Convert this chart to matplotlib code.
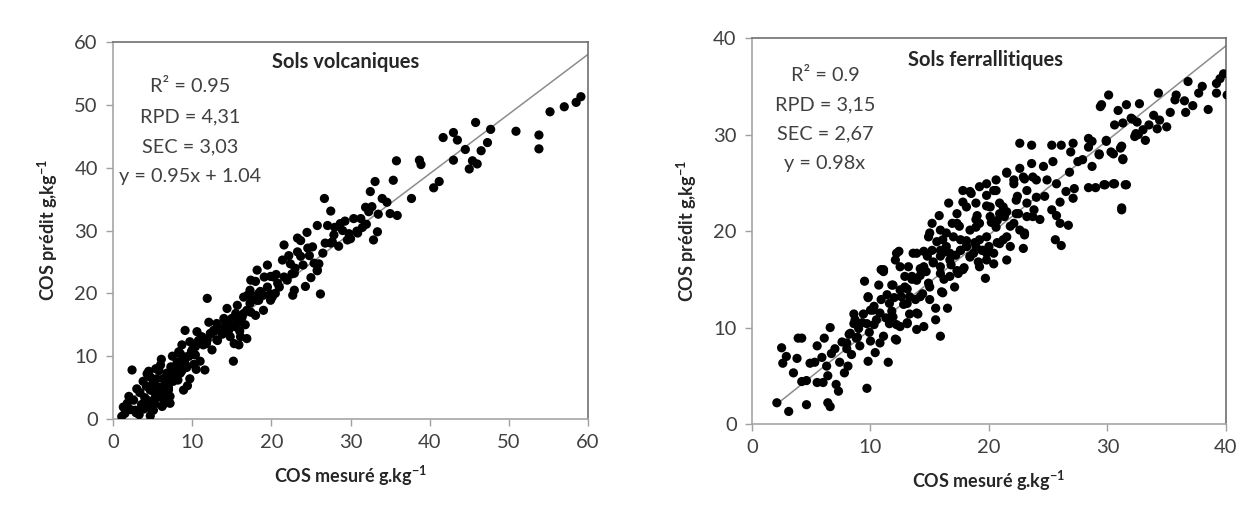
import matplotlib
matplotlib.use("Agg")
import matplotlib.pyplot as plt
import numpy as np

# Sols volcaniques : COS mesuré (x) / COS prédit (y), g/kg
vol_x = [1.1, 1.3, 2.6, 2.4, 3.2, 3.6, 4.7, 3.8, 4.5, 4.7,
         5.1, 5.5, 6.0, 6.2, 6.4, 6.8, 7.2, 7.6, 8.1, 8.3,
         8.5, 8.9, 8.7, 9.1, 9.7, 9.7, 10.2, 10.6, 11.0, 11.4,
         11.6, 11.9, 12.1, 12.5, 13.1, 13.5, 14.2, 14.4, 14.8, 15.2,
         15.4, 15.7, 15.9, 16.3, 16.5, 16.7, 16.9, 17.3, 18.2, 19.0,
         20.1, 3.9, 4.3, 4.7, 5.1, 5.8, 6.0, 6.4, 6.8, 7.3,
         7.7, 8.1, 8.5, 8.7, 2.9, 3.4, 4.0, 4.2, 5.0, 5.3,
         5.6, 5.9, 6.3, 6.6, 7.0, 7.4, 7.9, 8.2, 8.8, 9.3,
         9.6, 10.0, 10.4, 10.8, 11.2, 11.8, 12.3, 12.8, 13.2, 13.8,
         14.0, 14.6, 15.0, 15.3, 15.5, 16.0, 16.1, 16.5, 17.0, 17.4,
         17.8, 18.0, 18.6, 19.5, 20.5, 20.8, 1.8, 2.2, 3.0, 4.4,
         5.4, 6.1, 7.5, 9.0, 10.5, 17.4, 18.2, 19.5, 19.9, 21.4,
         21.6, 22.0, 22.7, 22.9, 23.3, 23.7, 24.3, 24.6, 25.4, 25.8,
         26.2, 26.5, 27.5, 27.9, 29.6, 30.9, 59.1, 58.5, 57.0, 55.2,
         53.8, 53.8, 50.9, 47.7, 45.8, 47.3, 46.5, 46.0, 45.0, 45.4,
         44.5, 43.0, 43.5, 43.0, 41.7, 41.2, 40.5, 38.9, 38.7, 37.7,
         35.9, 35.8, 35.4, 35.0, 34.6, 34.0, 33.5, 33.1, 32.5, 32.7,
         31.9, 33.4, 32.9, 31.3, 30.4, 30.8, 29.8, 30.0, 28.7, 29.0,
         27.5, 26.7, 27.1, 27.7, 25.8, 25.8, 26.0, 25.2, 24.5, 23.7,
         23.3, 22.9, 22.6, 20.3, 19.1, 18.0, 19.9, 18.4, 21.6, 22.4,
         20.6, 21.0, 22.2, 23.0, 24.0, 24.8, 25.0, 26.8, 28.0, 28.5,
         29.3, 31.5, 32.0, 32.3, 1.5, 2.0, 3.3, 4.9, 6.7, 9.4,
         4.3, 5.3, 5.7, 6.6, 7.0, 7.4, 7.9, 8.3, 9.1, 9.3,
         9.9, 10.4, 10.8, 11.2, 11.9, 12.3, 12.7, 13.1, 14.0, 14.6,
         15.0, 15.5, 16.1, 16.9, 17.3, 18.4, 19.0, 19.9, 5.1, 3.9,
         2.8, 6.2, 7.2]
vol_y = [0.4, 1.9, 3.0, 7.8, 1.2, 2.3, 0.5, 6.0, 7.6, 4.6,
         3.0, 6.4, 8.6, 2.0, 5.1, 7.3, 3.6, 6.0, 9.1, 10.7,
         7.3, 4.6, 11.8, 14.1, 12.3, 6.4, 8.7, 13.9, 9.2, 11.8,
         7.8, 19.2, 15.4, 11.0, 12.6, 14.4, 15.4, 17.6, 13.1, 9.2,
         14.7, 18.1, 11.8, 16.2, 19.4, 15.0, 12.8, 20.5, 18.9, 17.3,
         19.4, 1.6, 7.2, 6.7, 4.5, 7.7, 3.5, 2.4, 5.6, 8.3,
         6.7, 8.8, 10.4, 7.7, 1.0, 4.2, 3.4, 5.2, 5.6, 2.4,
         4.0, 5.0, 6.4, 4.3, 5.0, 7.0, 7.8, 6.2, 9.2, 8.2,
         10.0, 11.0, 10.2, 12.5, 13.0, 12.0, 13.6, 14.0, 12.5, 13.5,
         16.0, 14.1, 15.2, 12.0, 15.7, 14.0, 13.1, 16.8, 19.7, 17.0,
         19.5, 16.5, 20.3, 21.0, 20.0, 21.6, 2.5, 1.5, 4.8, 2.0,
         8.0, 9.5, 10.0, 9.8, 7.9, 22.1, 23.7, 24.5, 22.7, 25.3,
         27.7, 22.1, 19.7, 23.2, 28.8, 25.9, 21.1, 27.2, 24.8, 23.7,
         19.9, 26.4, 28.0, 29.3, 28.5, 29.6, 51.3, 50.4, 49.7, 48.9,
         45.2, 43.0, 45.8, 46.1, 47.2, 44.0, 42.7, 40.6, 39.8, 41.1,
         42.9, 41.2, 44.4, 45.6, 44.8, 37.8, 36.8, 40.5, 41.2, 35.1,
         32.4, 41.1, 38.0, 32.7, 34.5, 35.1, 32.6, 37.8, 36.2, 33.8,
         33.7, 29.8, 28.5, 31.9, 31.9, 29.9, 29.5, 28.7, 31.1, 30.0,
         33.1, 35.1, 30.8, 28.2, 30.8, 23.6, 24.7, 27.4, 29.7, 28.4,
         26.6, 20.5, 23.1, 22.6, 22.6, 21.9, 19.9, 18.9, 22.6, 24.7,
         23.0, 21.0, 26.0, 24.0, 24.5, 26.0, 22.5, 28.0, 30.5, 27.5,
         31.5, 30.5, 31.0, 33.0, 0.9, 3.6, 0.7, 1.4, 3.2, 5.3,
         3.0, 4.1, 5.1, 6.2, 4.6, 7.8, 6.7, 8.0, 8.8, 9.9,
         10.7, 11.5, 12.1, 13.1, 12.6, 13.6, 14.1, 15.2, 14.1, 14.7,
         16.0, 16.8, 15.4, 17.3, 18.4, 20.0, 19.7, 18.9, 1.4, 2.5,
         1.4, 3.4, 2.5]

# Sols ferrallitiques
fer_x = [2.1, 3.1, 4.6, 6.4, 6.6, 2.5, 2.6, 2.9, 3.5, 3.8,
         3.9, 4.2, 4.2, 4.6, 4.9, 5.3, 5.5, 5.5, 6.0, 6.1,
         6.3, 6.4, 6.6, 6.7, 7.1, 7.3, 7.4, 7.8, 8.1, 8.2,
         8.4, 8.7, 8.8, 9.1, 9.3, 9.5, 9.7, 9.8, 9.8, 9.9,
         10.2, 10.4, 10.5, 10.7, 11.1, 11.1, 11.4, 11.5, 11.8, 12.1,
         12.2, 11.9, 12.2, 12.5, 12.8, 13.1, 13.1, 13.2, 13.6, 13.8,
         13.9, 13.9, 14.2, 14.5, 14.9, 15.2, 14.9, 15.5, 15.9, 15.9,
         16.0, 16.1, 16.7, 17.1, 17.4, 17.6, 18.4, 19.1, 19.7, 20.4,
         19.2, 18.5, 19.8, 20.6, 21.5, 22.1, 22.9, 23.7, 16.6, 17.3,
         18.1, 18.9, 20.1, 20.9, 21.5, 22.3, 23.2, 23.7, 23.0, 22.9,
         15.0, 15.6, 16.4, 17.0, 17.6, 18.4, 19.2, 19.8, 20.6, 21.5,
         22.1, 12.4, 12.1, 11.1, 13.9, 14.5, 15.9, 16.4, 17.3, 18.4,
         18.9, 13.9, 15.0, 15.9, 13.1, 13.3, 14.0, 12.6, 16.5, 10.8,
         10.3, 9.7, 8.6, 8.3, 10.3, 11.6, 11.9, 9.8, 9.4, 12.2,
         29.5, 31.6, 30.6, 31.3, 32.0, 32.4, 22.6, 23.6, 25.3, 26.1,
         27.1, 26.9, 28.4, 28.7, 28.4, 29.9, 29.3, 30.3, 31.1, 31.3,
         27.5, 27.9, 28.7, 26.8, 25.4, 24.6, 23.6, 22.6, 21.5, 22.1,
         23.0, 24.0, 24.9, 25.7, 26.5, 27.2, 27.1, 26.0, 25.3, 24.7,
         28.4, 29.0, 29.8, 30.6, 31.6, 31.2, 26.0, 26.7, 25.7, 25.6,
         26.1, 23.0, 24.3, 23.8, 23.2, 22.4, 21.2, 20.4, 18.4, 19.8,
         18.9, 20.7, 21.8, 21.2, 19.2, 18.1, 19.8, 17.8, 16.9, 15.8,
         40.1, 39.8, 39.5, 39.2, 39.2, 38.5, 37.7, 36.8, 36.6, 35.8,
         35.7, 35.3, 35.0, 34.4, 34.2, 33.9, 34.3, 33.2, 32.6, 32.3,
         32.5, 32.1, 32.7, 30.9, 33.5, 31.2, 31.3, 31.2, 31.5, 30.5,
         30.1, 29.4, 29.9, 29.3, 30.5, 29.7, 36.5, 37.2, 38.0, 33.0,
         14.4, 15.3, 16.2, 16.8, 17.2, 17.9, 18.1, 18.8, 19.4, 20.0,
         20.7, 21.3, 22.5, 20.2, 19.0, 17.5, 16.2, 15.2, 14.7, 13.5,
         12.9, 12.0, 11.3, 10.9, 10.0, 9.0, 8.0, 7.6, 7.0, 5.9,
         10.9, 11.8, 12.9, 13.5, 14.2, 14.8, 15.3, 15.9, 16.7, 17.6,
         18.1, 18.7, 19.5, 20.4, 20.9, 21.8, 22.6, 22.3, 23.2, 24.0,
         8.6, 8.9, 8.0, 12.5, 13.1, 14.5, 15.5, 13.3, 12.5, 10.8,
         11.6, 10.0, 14.2, 15.0, 16.1, 16.7, 17.8, 19.2, 19.8, 21.5,
         18.9, 20.1, 20.9, 17.3, 15.9, 17.8, 19.8, 20.6]
fer_y = [2.2, 1.3, 2.0, 2.2, 1.8, 7.9, 6.3, 7.0, 5.3, 6.8,
         8.9, 8.9, 4.4, 4.5, 6.3, 6.4, 8.1, 4.3, 4.3, 8.9,
         6.0, 5.0, 10.0, 7.3, 4.1, 3.4, 6.4, 5.3, 6.0, 9.3,
         7.2, 10.8, 8.9, 8.1, 10.5, 14.8, 3.7, 6.5, 13.1, 9.5,
         11.8, 7.4, 10.8, 14.4, 15.8, 9.1, 13.4, 6.4, 11.7, 8.8,
         10.3, 14.4, 17.7, 16.3, 12.4, 10.5, 14.0, 16.3, 17.7, 12.9,
         9.8, 11.5, 15.4, 17.9, 19.4, 20.8, 14.6, 10.8, 9.1, 16.3,
         13.7, 19.1, 17.0, 14.2, 15.6, 18.0, 17.3, 16.8, 15.1, 16.6,
         24.6, 23.9, 23.7, 24.2, 26.0, 24.9, 25.6, 25.6, 22.9, 21.8,
         22.5, 22.9, 22.5, 22.9, 22.0, 23.2, 22.9, 21.5, 19.8, 18.2,
         19.8, 18.9, 19.8, 19.4, 19.1, 20.1, 20.8, 19.4, 20.4, 19.4,
         20.8, 17.9, 17.0, 16.0, 17.7, 16.3, 17.4, 18.4, 15.9, 17.4,
         18.4, 14.9, 14.2, 15.6, 12.5, 11.4, 11.4, 13.2, 12.0, 8.4,
         10.3, 10.4, 11.4, 9.4, 12.2, 12.5, 11.1, 13.2, 11.4, 8.7,
         33.1, 33.1, 31.0, 31.2, 31.7, 30.1, 29.1, 28.9, 28.9, 28.9,
         29.1, 28.2, 29.6, 29.3, 28.7, 29.3, 28.0, 28.2, 28.6, 27.4,
         27.2, 27.4, 26.7, 26.1, 27.2, 26.7, 27.0, 26.5, 26.1, 25.3,
         25.4, 25.3, 25.3, 24.9, 24.1, 24.4, 23.4, 23.0, 22.2, 23.6,
         24.5, 24.5, 24.8, 24.9, 24.8, 22.2, 20.8, 20.6, 21.6, 19.1,
         18.5, 19.6, 21.2, 22.2, 21.5, 23.6, 22.5, 24.2, 24.1, 22.6,
         21.2, 21.1, 20.5, 19.1, 19.1, 18.4, 17.7, 23.0, 20.8, 21.6,
         34.1, 36.3, 35.8, 35.3, 34.3, 32.6, 34.3, 35.5, 32.3, 34.1,
         33.6, 32.3, 30.8, 31.5, 30.6, 32.0, 34.3, 29.4, 30.0, 29.8,
         31.3, 31.6, 33.2, 32.5, 31.0, 28.8, 27.5, 22.4, 24.8, 28.0,
         34.1, 32.9, 29.4, 27.9, 24.9, 24.8, 33.5, 33.0, 35.0, 30.5,
         13.5, 16.8, 15.0, 16.5, 17.5, 16.2, 19.0, 18.8, 18.0, 18.4,
         18.8, 21.5, 21.8, 20.9, 21.6, 20.5, 17.8, 18.0, 15.8, 15.0,
         15.3, 13.1, 11.0, 12.9, 8.6, 9.9, 7.8, 8.5, 7.8, 6.9,
         16.0, 14.4, 14.2, 15.3, 16.1, 17.4, 16.7, 18.0, 17.7, 18.0,
         18.4, 17.7, 18.0, 17.7, 18.7, 18.4, 20.1, 21.8, 24.2, 23.5,
         10.4, 9.0, 8.4, 10.1, 10.4, 10.1, 12.0, 13.2, 13.9, 11.5,
         10.4, 11.8, 13.2, 12.9, 13.6, 15.3, 16.0, 16.3, 17.0, 17.0,
         20.4, 21.5, 21.8, 20.8, 20.1, 24.2, 24.9, 25.3]

panels = [
    dict(x=vol_x, y=vol_y, title="Sols volcaniques", lim=60,
         slope=0.95, icpt=1.04, fit_range=(1, 60),
         stats=["R² = 0.95", "RPD = 4,31", "SEC = 3,03", "y = 0.95x + 1.04"],
         rect=[0.0908, 0.2019, 0.3815, 0.718],
         title_pos=(0.49, 0.947), stats_pos=(0.162, 0.881, 0.0796)),
    dict(x=fer_x, y=fer_y, title="Sols ferrallitiques", lim=40,
         slope=0.98, icpt=0.0, fit_range=(2, 40),
         stats=["R² = 0.9", "RPD = 3,15", "SEC = 2,67", "y = 0.98x"],
         rect=[0.604, 0.1924, 0.3807, 0.735],
         title_pos=(0.493, 0.943), stats_pos=(0.154, 0.904, 0.0764)),
]

plt.rcParams["font.family"] = ["Lato", "DejaVu Sans"]
plt.rcParams["mathtext.fontset"] = "custom"
plt.rcParams["mathtext.rm"] = "Lato"
plt.rcParams["mathtext.bf"] = "Lato:bold"

fig = plt.figure(figsize=(12.45, 5.25), dpi=100)
fig.patch.set_facecolor("white")

for p in panels:
    ax = fig.add_axes(p["rect"])
    ax.scatter(p["x"], p["y"], s=44, c="black", edgecolors="none", zorder=3)
    fx = np.array(p["fit_range"], dtype=float)
    ax.plot(fx, p["slope"] * fx + p["icpt"], color="#8c8c8c", lw=1.1, zorder=2)

    ax.set_xlim(0, p["lim"])
    ax.set_ylim(0, p["lim"])
    ticks = np.arange(0, p["lim"] + 1, 10)
    ax.set_xticks(ticks)
    ax.set_yticks(ticks)
    ax.tick_params(direction="out", length=5, width=1, color="#a0a0a0",
                   labelsize=14.5, labelcolor="#404040", pad=6)
    for side in ["left", "bottom"]:
        ax.spines[side].set_color("#a6a6a6")
        ax.spines[side].set_linewidth(1.2)
    for side in ["top", "right"]:
        ax.spines[side].set_color("#707070")
        ax.spines[side].set_linewidth(1.2)

    ax.set_xlabel(r"COS mesuré g.kg$^{\mathbf{-1}}$", fontsize=13,
                  fontweight="bold", color="#262626", labelpad=9)
    ax.set_ylabel(r"COS prédit g,kg$^{\mathbf{-1}}$", fontsize=13,
                  fontweight="bold", color="#262626", labelpad=10)

    tx, ty = p["title_pos"]
    ax.text(tx, ty, p["title"], transform=ax.transAxes, ha="center",
            va="center", fontsize=14.5, fontweight="bold", color="#262626")
    sx, sy, dy = p["stats_pos"]
    for i, line in enumerate(p["stats"]):
        ax.text(sx, sy - i * dy, line, transform=ax.transAxes, ha="center",
                va="center", fontsize=14.3, color="#404040")

fig.savefig("out.png", dpi=100, facecolor="white")
